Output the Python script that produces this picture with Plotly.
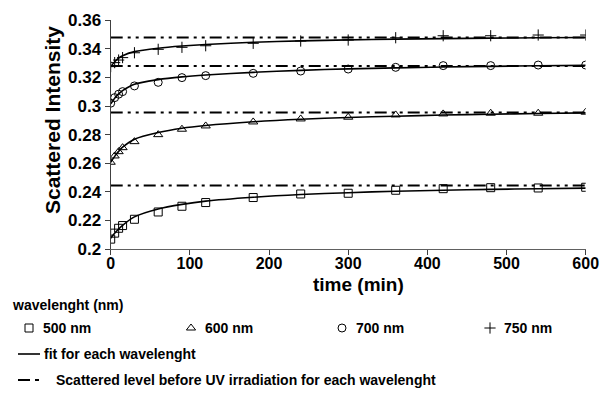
import plotly.graph_objects as go

# ---------------- data ----------------
times = [0, 5, 10, 15, 30, 60, 90, 120, 180, 240, 300, 360, 420, 480, 540, 600]

i500 = [0.2069, 0.2111, 0.2145, 0.2164, 0.2208, 0.2259, 0.2299, 0.2325,
        0.2360, 0.2385, 0.2390, 0.2411, 0.2422, 0.2429, 0.2427, 0.2432]
i600 = [0.2607, 0.2651, 0.2681, 0.2709, 0.2751, 0.2800, 0.2838, 0.2861,
        0.2889, 0.2910, 0.2922, 0.2938, 0.2945, 0.2950, 0.2950, 0.2957]
i700 = [0.3020, 0.3059, 0.3083, 0.3101, 0.3141, 0.3166, 0.3199, 0.3213,
        0.3229, 0.3245, 0.3259, 0.3271, 0.3283, 0.3283, 0.3287, 0.3287]
i750 = [0.3276, 0.3304, 0.3322, 0.3339, 0.3373, 0.3397, 0.3411, 0.3422,
        0.3439, 0.3455, 0.3462, 0.3478, 0.3492, 0.3492, 0.3497, 0.3497]

fit500 = [0.2076, 0.2110, 0.2140, 0.2166, 0.2225, 0.2280, 0.2312, 0.2335,
          0.2362, 0.2381, 0.2394, 0.2404, 0.2411, 0.2417, 0.2422, 0.2426]
fit600 = [0.2607, 0.2648, 0.2683, 0.2712, 0.2768, 0.2815, 0.2845, 0.2864,
          0.2890, 0.2908, 0.2920, 0.2929, 0.2937, 0.2943, 0.2948, 0.2952]
fit700 = [0.3015, 0.3055, 0.3085, 0.3108, 0.3153, 0.3185, 0.3204, 0.3217,
          0.3236, 0.3250, 0.3260, 0.3267, 0.3273, 0.3278, 0.3282, 0.3285]
fit750 = [0.3275, 0.3310, 0.3335, 0.3352, 0.3381, 0.3405, 0.3420, 0.3431,
          0.3446, 0.3456, 0.3463, 0.3468, 0.3472, 0.3475, 0.3478, 0.3480]

level_times = [0, 600]
levels = {"500 nm": 0.2445, "600 nm": 0.2955, "700 nm": 0.3280, "750 nm": 0.3480}

series_names = ["500 nm", "600 nm", "700 nm", "750 nm"]
series_symbols = ["square-open", "triangle-up-open", "circle-open", "cross-thin-open"]

y_tickvals = [0.20, 0.22, 0.24, 0.26, 0.28, 0.30, 0.32, 0.34, 0.36]
y_ticktext = ["0.2", "0.22", "0.24", "0.26", "0.28", "0.3", "0.32", "0.34", "0.36"]
x_tickvals = [0, 100, 200, 300, 400, 500, 600]

legend_title = "wavelenght (nm)"
fit_label = "fit for each wavelenght"
level_label = "Scattered level before UV irradiation for each wavelenght"

# ---------------- figure ----------------
W, H = 607, 395
FONT = "Liberation Sans, Arial, sans-serif"
DASH = "12px,5px,3px,5px,3px,5px"
LEG_FS = 14

fig = go.Figure()

data = [i500, i600, i700, i750]
fits = [fit500, fit600, fit700, fit750]

for name in series_names:
    fig.add_trace(go.Scatter(x=level_times, y=[levels[name]] * len(level_times),
                             mode="lines", line=dict(color="black", width=2, dash=DASH),
                             showlegend=False, hoverinfo="skip"))

for f in fits:
    fig.add_trace(go.Scatter(x=times, y=f, mode="lines",
                             line=dict(color="black", width=1.6, shape="spline", smoothing=0.8),
                             showlegend=False, hoverinfo="skip"))

for d, sym in zip(data, series_symbols):
    fig.add_trace(go.Scatter(x=times, y=d, mode="markers",
                             marker=dict(symbol=sym, size=8, color="black",
                                         line=dict(color="black", width=1)),
                             showlegend=False))

# ---------- custom legend on a full-figure pixel axis ----------
leg_title_y = 305
leg_row_y = 328
fit_row_y = 354
lvl_row_y = 380
leg_sym_x = [29, 191, 342, 490]
for sx, sym in zip(leg_sym_x, series_symbols):
    fig.add_trace(go.Scatter(x=[sx], y=[leg_row_y], xaxis="x2", yaxis="y2", mode="markers",
                             marker=dict(symbol=sym, size=8, color="black",
                                         line=dict(color="black", width=1)),
                             showlegend=False, hoverinfo="skip"))
fig.add_trace(go.Scatter(x=[18, 40], y=[fit_row_y, fit_row_y], xaxis="x2", yaxis="y2", mode="lines",
                         line=dict(color="black", width=1.6), showlegend=False, hoverinfo="skip"))
fig.add_trace(go.Scatter(x=[18, 40], y=[lvl_row_y, lvl_row_y], xaxis="x2", yaxis="y2", mode="lines",
                         line=dict(color="black", width=2, dash="12px,5px,4px,5px"),
                         showlegend=False, hoverinfo="skip"))

ann = []
ann.append(dict(x=10, y=leg_title_y, text="<b>%s</b>" % legend_title, xref="x2", yref="y2",
                xanchor="left", yanchor="middle", showarrow=False,
                font=dict(size=LEG_FS, family=FONT, color="black")))
for sx, name in zip(leg_sym_x, series_names):
    ann.append(dict(x=sx + 12, y=leg_row_y, text="<b>%s</b>" % name, xref="x2", yref="y2",
                    xanchor="left", yanchor="middle", showarrow=False,
                    font=dict(size=LEG_FS, family=FONT, color="black")))
ann.append(dict(x=42, y=fit_row_y, text="<b>%s</b>" % fit_label, xref="x2", yref="y2",
                xanchor="left", yanchor="middle", showarrow=False,
                font=dict(size=LEG_FS, family=FONT, color="black")))
ann.append(dict(x=54, y=lvl_row_y, text="<b>%s</b>" % level_label, xref="x2", yref="y2",
                xanchor="left", yanchor="middle", showarrow=False,
                font=dict(size=LEG_FS, family=FONT, color="black")))
# axis titles
ann.append(dict(x=358, y=284, text="<b>time (min)</b>", xref="x2", yref="y2",
                xanchor="center", yanchor="middle", showarrow=False,
                font=dict(size=19, family=FONT, color="black")))
ann.append(dict(x=52, y=120, text="<b>Scattered Intensity</b>", xref="x2", yref="y2",
                xanchor="center", yanchor="middle", showarrow=False, textangle=-90,
                font=dict(size=21, family=FONT, color="black")))

x0, x1 = 110.7, 585.7
ytop, ybot = 20.3, 249.0

fig.update_layout(
    width=W, height=H,
    margin=dict(l=0, r=0, t=0, b=0, pad=0),
    paper_bgcolor="white", plot_bgcolor="rgba(0,0,0,0)",
    font=dict(family=FONT, color="black"),
    annotations=ann,
    xaxis=dict(domain=[x0 / W, x1 / W], range=[0, 600], tickvals=x_tickvals,
               ticks="",
               minor=dict(tickmode="array", tickvals=x_tickvals, ticks="outside",
                          ticklen=5, tickcolor="#404040", tickwidth=1),
               showline=True, linecolor="#606060", linewidth=1.2,
               showgrid=False, zeroline=False, automargin=False,
               tickfont=dict(size=16, family=FONT, color="black", weight="bold")),
    yaxis=dict(domain=[(H - ybot) / H, (H - ytop) / H], range=[0.2, 0.36],
               tickvals=y_tickvals, ticktext=y_ticktext,
               ticks="outside", ticklen=5, tickcolor="#404040", tickwidth=1,
               showline=True, linecolor="#404040", linewidth=1.2,
               showgrid=False, zeroline=False, automargin=False,
               tickfont=dict(size=17, family=FONT, color="black", weight="bold")),
    xaxis2=dict(domain=[0, 1], range=[0, W], visible=False, fixedrange=True,
                anchor="y2"),
    yaxis2=dict(domain=[0, 1], range=[H, 0], visible=False, fixedrange=True,
                anchor="x2"),
    showlegend=False,
)

fig.write_html("out.html", config={"displayModeBar": False},
               post_script="document.body.style.margin='0px';document.body.style.padding='0px';")
